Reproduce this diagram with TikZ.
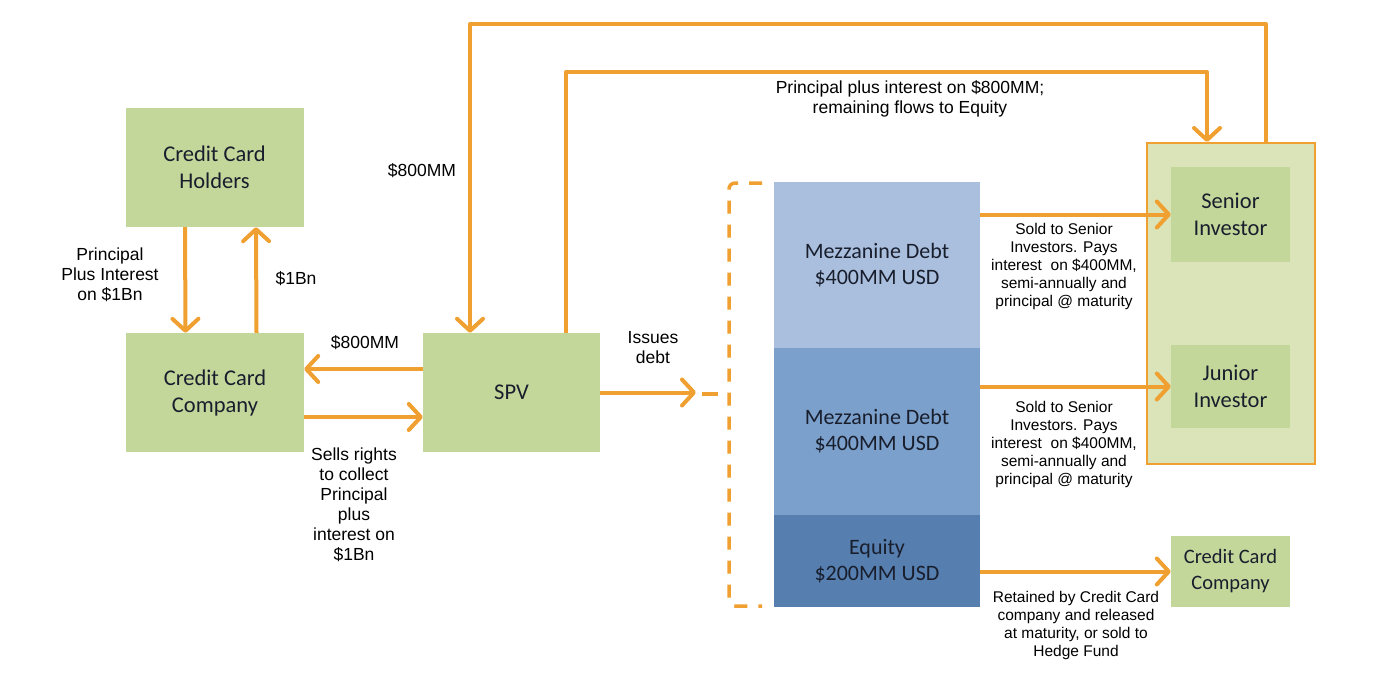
\documentclass[tikz,border=0pt]{standalone}
\usepackage{fontspec}
\setmainfont{Liberation Sans}
\newfontfamily\boxfont{Carlito}
\usetikzlibrary{arrows.meta}
\definecolor{myorange}{RGB}{240,160,48}
\definecolor{mygreen}{RGB}{196,215,155}
\definecolor{grpfill}{RGB}{219,227,184}
\definecolor{mezzA}{RGB}{170,191,222}
\definecolor{mezzB}{RGB}{123,160,203}
\definecolor{mezzC}{RGB}{86,127,176}
\definecolor{boxtext}{RGB}{25,30,45}
\tikzset{
  arr/.style={draw=myorange, line width=4pt, line join=round,
    -{Straight Barb[length=12pt,width=26pt,line cap=round,line join=round]}},
  gbox/.style={fill=mygreen, draw=none, inner sep=0pt, align=center,
    font=\boxfont\fontsize{22.5}{27}\selectfont, text=boxtext},
  tbox/.style={draw=none, inner sep=0pt, align=center,
    font=\boxfont\fontsize{22}{26}\selectfont, text=boxtext},
  lbl/.style={inner sep=0pt, align=center, font=\fontsize{17.5}{20}\selectfont},
  slbl/.style={inner sep=0pt, align=center, font=\fontsize{15.5}{18}\selectfont},
  brkline/.style={draw=myorange, line width=3.5pt, dash pattern=on 13pt off 11pt, rounded corners=6pt},
}
\begin{document}
\begin{tikzpicture}[x=1pt,y=-1pt]
\useasboundingbox (0,0) rectangle (1400,682);

% group box
\node[draw=myorange, line width=2pt, fill=grpfill, minimum width=168pt, minimum height=321pt, inner sep=0pt] (grp) at (1231,303.5) {};

% green boxes
\node[gbox, minimum width=178pt, minimum height=119pt] (cch) at (214.5,167.5) {Credit Card\\Holders};
\node[gbox, minimum width=178pt, minimum height=119pt] (ccc) at (215,392.5) {Credit Card\\Company};
\node[gbox, minimum width=177pt, minimum height=119pt] (spv) at (511.5,392.5) {SPV};
\node[gbox, minimum width=119pt, minimum height=95pt] (senior) at (1230.5,214.5) {Senior\\Investor};
\node[gbox, minimum width=119pt, minimum height=83pt] (junior) at (1230.5,386.5) {Junior\\Investor};
\node[gbox, font=\boxfont\fontsize{20.5}{26}\selectfont, minimum width=119pt, minimum height=71pt] (ccc2) at (1230.5,571.5) {Credit Card\\Company};

% tranche boxes
\node[tbox, fill=mezzA, minimum width=206pt, minimum height=166pt] (mezz1) at (877,265) {Mezzanine Debt\\\$400MM USD};
\node[tbox, fill=mezzB, minimum width=206pt, minimum height=167pt] (mezz2) at (877,431.5) {Mezzanine Debt\\\$400MM USD};
\node[tbox, fill=mezzC, minimum width=206pt, minimum height=92pt] (equity) at (877,561) {Equity\\\$200MM USD};

% bracket
\coordinate (brk) at (702,394);
\coordinate (brkt) at (762,183);
\coordinate (brkb) at (762,606);
\draw[brkline] (brkt) -- (729,183) -- (729,606) -- (brkb);
\draw[draw=myorange, line width=3.5pt] (718,394) -- (brk);

% arrows left part
\draw[arr] ([xshift=-29.5pt]cch.south) -- ([xshift=-29.5pt]ccc.north);
\draw[arr] ([xshift=41.5pt]ccc.north) -- ([xshift=41.5pt]cch.south);
\draw[arr] ([yshift=23.5pt]spv.west) -- ([yshift=23.5pt]ccc.east);
\draw[arr] ([yshift=-24.5pt]ccc.east) -- ([yshift=-24.5pt]spv.east -| spv.west);
\draw[arr] (spv.east) -- ([xshift=-6pt]spv.east -| brk);

% loops
\coordinate (ctop1) at (470,24);
\coordinate (ctop2) at (1207,72);
\draw[arr] ([xshift=35pt]grp.north) |- (ctop1) -- ([xshift=-41.5pt]spv.north);
\draw[arr] ([xshift=54.5pt]spv.north) |- (ctop2) -- ([xshift=-24pt]grp.north);

% arrows right part
\draw[arr] (senior.west -| mezz1.east) -- (senior.west);
\draw[arr] (junior.west -| mezz2.east) -- (junior.west);
\draw[arr] (ccc2.west -| equity.east) -- (ccc2.west);

% labels
\node[lbl] (l1) at (110,275) {Principal\\Plus Interest\\on \$1Bn};
\node[lbl] (l2) at (296,279) {\$1Bn};
\node[lbl] (l3) at (422,171) {\$800MM};
\node[lbl] (l4) at (365,343) {\$800MM};
\node[lbl] (l5) at (354,505) {Sells rights\\to collect\\Principal\\plus\\interest on\\\$1Bn};
\node[lbl] (l6) at (653,348) {Issues\\debt};
\node[lbl] (l7) at (910,99) {Principal plus interest on \$800MM;\\remaining flows to Equity};
\node[slbl] (l8) at (1064,266) {Sold to Senior\\Investors. Pays\\interest\ \ on \$400MM,\\semi-annually and\\principal @ maturity};
\node[slbl] (l9) at (1064,444) {Sold to Senior\\Investors. Pays\\interest\ \ on \$400MM,\\semi-annually and\\principal @ maturity};
\node[slbl] (l10) at (1076,625) {Retained by Credit Card\\company and released\\at maturity, or sold to\\Hedge Fund};
\end{tikzpicture}
\end{document}
